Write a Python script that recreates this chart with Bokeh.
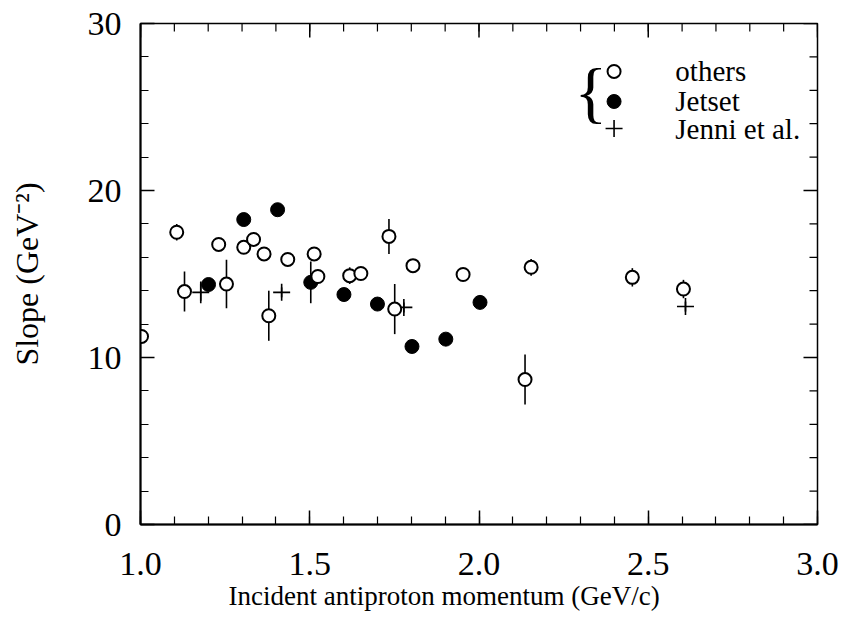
import numpy as np
from bokeh.plotting import figure
from bokeh.models import LinearAxis, SingleIntervalTicker, NumeralTickFormatter, ColumnDataSource, Title
from bokeh.core.properties import value
from bokeh.embed import file_html
from bokeh.resources import INLINE

# ---- data ----
others_x = [1.003, 1.107, 1.130, 1.231, 1.254, 1.305, 1.334, 1.365, 1.379, 1.435, 1.513,
            1.524, 1.618, 1.651, 1.734, 1.751, 1.805, 1.953, 2.136, 2.154, 2.453, 2.604]
others_y = [11.26, 17.5, 13.95, 16.77, 14.4, 16.6, 17.07, 16.2, 12.5, 15.87, 16.2,
            14.85, 14.9, 15.03, 17.25, 12.9, 15.5, 14.97, 8.68, 15.4, 14.8, 14.1]
others_err = [0.4, 0.5, 1.2, 0.3, 1.45, 0.3, 0.3, 0.3, 1.5, 0.3, 0.3,
              0.4, 0.5, 0.3, 1.05, 1.5, 0.3, 0.3, 1.5, 0.5, 0.55, 0.55]

jetset_x = [1.201, 1.305, 1.405, 1.503, 1.601, 1.700, 1.802, 1.902, 2.003]
jetset_y = [14.37, 18.26, 18.85, 14.5, 13.77, 13.2, 10.66, 11.1, 13.3]
jetset_err = [0.3, 0.3, 0.3, 1.25, 0.3, 0.3, 0.3, 0.3, 0.3]

jenni_x = [1.178, 1.417, 1.778, 2.610]
jenni_y = [13.9, 13.9, 13.0, 13.05]
jenni_err = [0.65, 0.3, 0.3, 0.3]

series_labels = ["others", "Jetset", "Jenni et al."]
x_label = "Incident antiproton momentum (GeV/c)"
y_label = "Slope (GeV\u207b\u00b2)"

X_RANGE = (1.0, 3.0)
Y_RANGE = (0.0, 30.0)
X_MAJOR, X_MINOR = 0.5, 0.1
Y_MAJOR, Y_MINOR = 10.0, 2.0

FONT = "Liberation Serif"

p = figure(width=844, height=623, x_range=X_RANGE, y_range=Y_RANGE,
           output_backend="svg", toolbar_location=None,
           min_border_left=140, min_border_right=27, min_border_top=23, min_border_bottom=99)
p.xaxis.visible = False
p.yaxis.visible = False
p.grid.visible = False
p.outline_line_color = "black"
p.outline_line_width = 1.5
p.background_fill_color = "white"
p.border_fill_color = "white"


def style_axis(ax):
    ax.axis_line_color = "black"
    ax.axis_line_width = 2
    ax.major_tick_line_width = 1.5
    ax.minor_tick_line_width = 1.2
    ax.major_tick_in = 14
    ax.major_tick_out = 0
    ax.minor_tick_in = 8
    ax.minor_tick_out = 0
    ax.major_label_text_font = FONT
    ax.major_label_text_color = "black"
    ax.major_label_text_font_size = "34px"
    ax.axis_label_text_font = FONT
    ax.axis_label_text_font_style = "normal"
    ax.axis_label_text_color = "black"
    return ax


xb = style_axis(LinearAxis(ticker=SingleIntervalTicker(interval=X_MAJOR, num_minor_ticks=5),
                           formatter=NumeralTickFormatter(format="0.0")))
xb.major_label_standoff = 28
p.add_layout(xb, "below")

# x-axis title (placed a little left of the frame centre, as in the reference)
p.add_layout(Title(text=x_label, align="left", offset=88, text_font=FONT,
                   text_font_size="27px", text_font_style="normal", text_color="black",
                   standoff=3), "below")

yl = style_axis(LinearAxis(ticker=SingleIntervalTicker(interval=Y_MAJOR, num_minor_ticks=5),
                           axis_label=y_label))
yl.major_label_standoff = 19
yl.axis_label_text_font_size = "32px"
yl.axis_label_standoff = 40
p.add_layout(yl, "left")

# inward ticks on the top and right frame edges
xt_major = np.arange(X_RANGE[0], X_RANGE[1] + 1e-9, X_MAJOR)
xt_minor = np.arange(X_RANGE[0], X_RANGE[1] + 1e-9, X_MINOR)
yt_major = np.arange(Y_RANGE[0], Y_RANGE[1] + 1e-9, Y_MAJOR)
yt_minor = np.arange(Y_RANGE[0], Y_RANGE[1] + 1e-9, Y_MINOR)
p.scatter(xt_minor, [Y_RANGE[1]] * len(xt_minor), marker="dash", angle=np.pi / 2, size=16,
          line_color="black", line_width=1.2)
p.scatter(xt_major, [Y_RANGE[1]] * len(xt_major), marker="dash", angle=np.pi / 2, size=28,
          line_color="black", line_width=1.5)
p.scatter([X_RANGE[1]] * len(yt_minor), yt_minor, marker="dash", size=16,
          line_color="black", line_width=1.2)
p.scatter([X_RANGE[1]] * len(yt_major), yt_major, marker="dash", size=28,
          line_color="black", line_width=1.5)


# error bars
def err_segments(xs, ys, es):
    return dict(x0=xs, x1=xs, y0=[y - e for y, e in zip(ys, es)], y1=[y + e for y, e in zip(ys, es)])

for xs, ys, es in [(others_x, others_y, others_err), (jetset_x, jetset_y, jetset_err),
                   (jenni_x, jenni_y, jenni_err)]:
    p.segment(source=ColumnDataSource(err_segments(xs, ys, es)),
              x0="x0", y0="y0", x1="x1", y1="y1", line_color="black", line_width=1.6)

p.scatter(jenni_x, jenni_y, marker="cross", size=17, line_color="black", line_width=1.6)
p.scatter(jetset_x, jetset_y, marker="circle", size=14, fill_color="black", line_color="black")
p.scatter(others_x, others_y, marker="circle", size=13, fill_color="white",
          line_color="black", line_width=2)

# legend (drawn by hand so that it can carry the brace)
leg_x, leg_text_x = 2.399, 2.580
leg_y = [27.13, 25.33, 23.71]
p.scatter([leg_x], [leg_y[0]], marker="circle", size=13, fill_color="white", line_color="black", line_width=2)
p.scatter([leg_x], [leg_y[1]], marker="circle", size=14, fill_color="black", line_color="black")
p.scatter([leg_x], [leg_y[2]], marker="cross", size=17, line_color="black", line_width=1.6)
p.text(x=[leg_text_x] * 3, y=leg_y, text=series_labels, text_font=value(FONT), text_font_size="29px",
       text_align="left", text_baseline="middle", text_color="black")
p.text(x=[2.33], y=[25.92], text=["{"], text_font=value(FONT), text_font_size="68px",
       text_align="center", text_baseline="middle", text_color="black")

open("out.html", "w").write(file_html(p, INLINE))
